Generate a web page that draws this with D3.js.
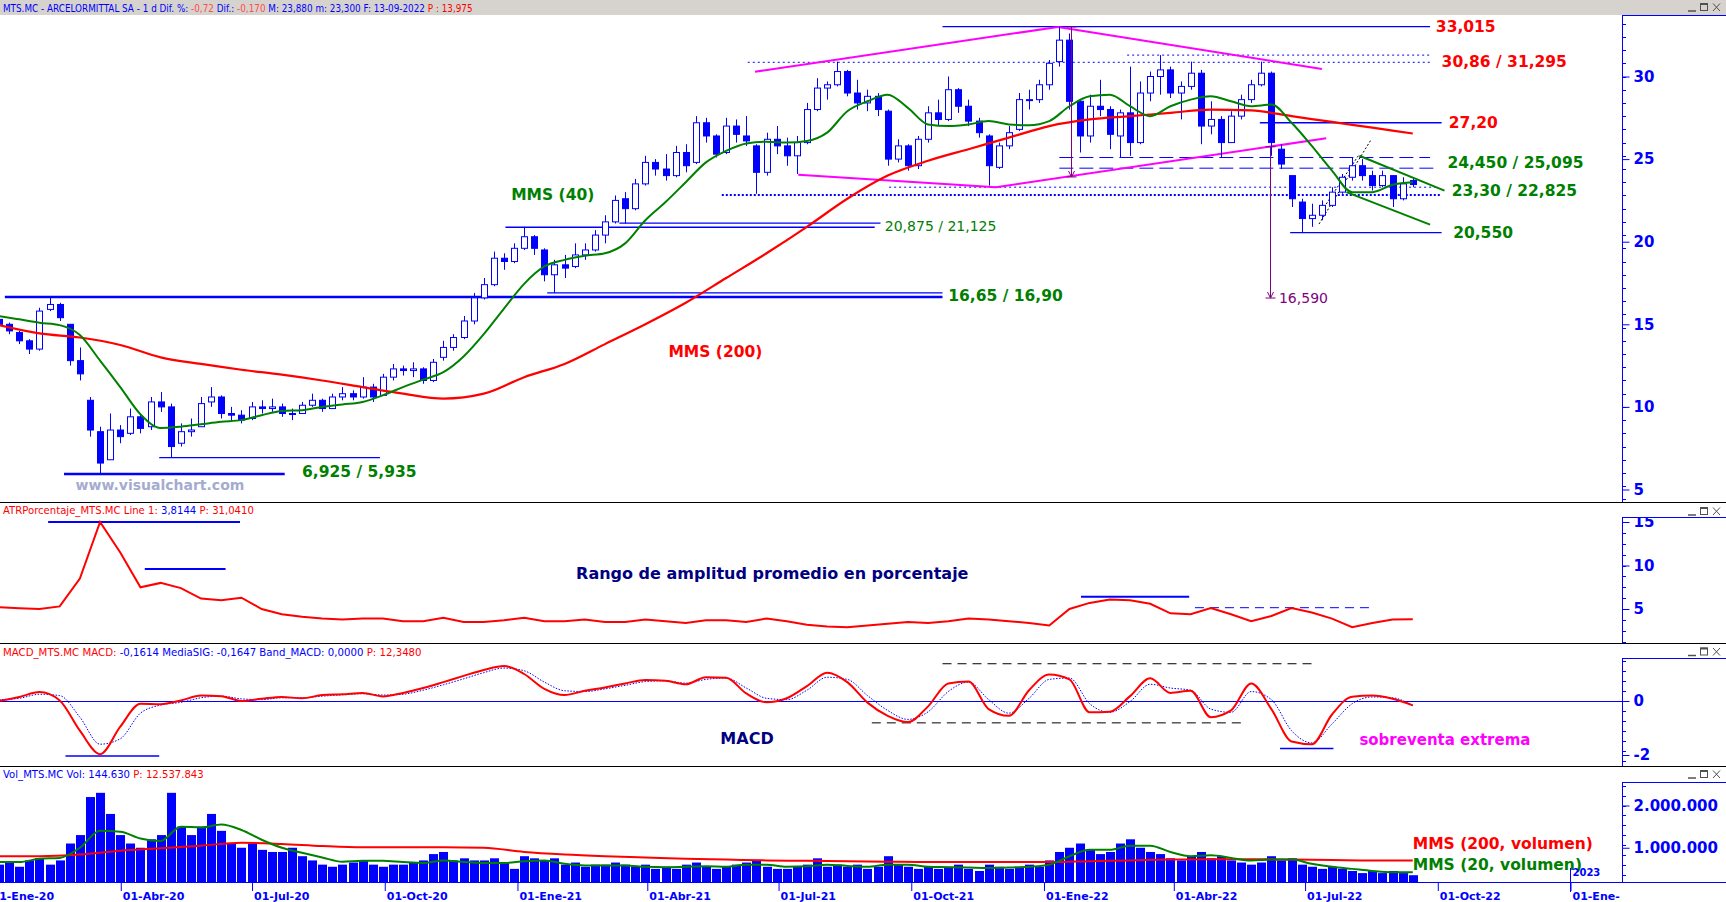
<!DOCTYPE html>
<html>
<head>
<meta charset="utf-8">
<script src="https://cdn.jsdelivr.net/npm/d3@7"></script>
<style>
  body { margin: 0; background: #fff; overflow: hidden; }
  svg { display: block; }
  text { font-family: "DejaVu Sans", Verdana, sans-serif; }
</style>
</head>
<body>
<div id="chart-area"></div>
<script>
// weekly bars (MTS.MC, Jan-2020 .. 13-Sep-2022)
var firstMonday = "2020-01-06", lastMonday = "2022-09-12"

var opens = [15.3,15.0,14.5,14.0,13.5,15.9,16.2,15.0,12.8,10.4,
  8.5,6.8,8.6,8.4,9.4,8.8,10.3,10.0,7.8,8.5,
  8.8,10.3,10.6,9.6,9.5,9.3,10.0,9.9,10.0,9.6,
  9.6,10.1,10.4,9.9,10.6,10.8,10.6,11.2,10.7,11.8,
  12.3,12.2,12.3,11.6,13.0,13.6,14.2,15.2,16.6,17.4,
  19.0,18.8,19.6,20.3,19.5,18.0,18.6,18.5,19.2,19.5,
  20.4,21.2,22.6,22.0,23.5,24.8,24.4,24.0,25.4,24.8,
  27.2,26.4,25.4,27.0,26.4,25.8,24.2,26.2,25.8,25.2,
  26.0,28.0,29.3,29.5,30.3,29.0,28.4,28.8,27.9,25.0,
  25.8,24.6,26.2,27.8,27.4,29.2,28.2,27.3,26.4,24.5,
  25.8,26.8,28.6,28.6,29.5,30.9,32.2,28.5,26.4,28.2,
  28.0,26.4,27.8,26.0,29.0,30.0,30.4,29.0,29.4,30.2,
  27.0,27.4,26.0,27.6,28.6,29.5,30.2,25.6,24.0,22.4,
  21.4,21.6,22.2,23.0,23.9,24.6,24.0,23.4,24.0,22.6,
  23.7]
var highs = [15.5,15.1,14.6,14.1,16.0,16.7,16.3,15.0,13.6,10.6,
  8.8,9.6,8.9,9.9,9.6,10.6,10.9,10.2,9.0,9.3,
  10.6,11.2,10.7,10.0,9.8,10.3,10.4,10.5,10.2,9.9,
  10.3,10.8,10.5,10.8,11.2,11.0,11.8,11.4,12.0,12.6,
  12.5,12.7,12.4,12.9,14.0,14.4,15.5,16.9,17.8,19.4,
  19.3,19.9,20.9,20.4,19.6,18.9,19.2,19.9,19.9,20.7,
  21.6,22.8,23.0,23.8,25.2,25.0,25.3,25.8,25.9,27.6,
  27.5,26.5,27.5,27.4,27.6,25.9,26.6,27.0,26.3,26.4,
  28.4,29.9,29.7,30.9,30.4,29.8,29.2,29.0,28.0,26.2,
  25.9,26.4,28.2,28.6,30.0,29.3,28.6,27.5,26.5,26.0,
  27.0,29.0,29.2,29.8,31.0,33.015,32.6,28.6,28.9,29.8,
  28.2,28.0,30.6,29.7,30.3,31.295,30.6,29.7,30.9,30.4,
  28.5,27.6,27.9,28.9,29.8,30.9,30.3,25.9,24.0,22.6,
  22.3,22.5,23.3,24.1,25.1,25.0,24.3,24.3,24.0,23.9,
  23.88]
var lows = [14.9,14.4,13.8,13.2,13.4,15.8,15.2,12.5,11.6,8.2,
  5.935,6.8,7.8,8.3,8.4,8.6,9.7,6.925,7.6,8.2,
  8.8,10.0,9.3,9.1,9.0,9.2,9.6,9.7,9.4,9.2,
  9.6,10.0,9.7,9.9,10.4,10.4,10.5,10.3,10.7,11.6,
  11.9,11.8,11.4,11.5,12.8,13.4,14.1,15.0,16.5,17.3,
  18.3,18.7,19.5,19.2,17.6,16.9,17.8,18.4,18.9,19.4,
  19.9,21.1,21.1,21.9,23.4,24.0,23.7,23.9,24.2,24.7,
  26.0,25.1,25.3,26.0,25.8,22.9,24.0,25.3,24.6,24.1,
  25.9,27.9,28.6,29.4,28.8,28.0,27.9,27.6,24.6,24.8,
  24.3,24.4,26.0,27.0,27.3,27.8,27.0,26.3,23.4,24.4,
  25.6,26.7,28.0,28.4,29.2,30.6,28.0,25.4,26.0,27.6,
  25.6,25.1,25.2,25.9,28.5,28.9,28.7,27.4,29.2,25.9,
  26.5,25.1,26.0,27.4,28.4,29.4,25.2,24.4,22.1,20.55,
  20.9,21.3,22.1,22.9,23.7,23.7,23.1,23.3,22.1,22.5,
  23.30]
var closes = [15.0,14.6,14.0,13.5,15.8,16.2,15.4,12.8,12.0,8.6,
  6.6,8.6,8.2,9.4,8.7,10.3,10.0,7.6,8.5,8.6,
  10.2,10.6,9.6,9.5,9.2,10.0,9.9,10.0,9.6,9.6,
  10.1,10.4,9.9,10.6,10.8,10.6,11.2,10.6,11.8,12.3,
  12.2,12.3,11.6,12.7,13.6,14.2,15.2,16.6,17.4,19.0,
  18.8,19.6,20.3,19.6,18.0,18.6,18.4,19.2,19.5,20.4,
  21.2,22.5,22.0,23.5,24.8,24.4,24.0,25.4,24.6,27.2,
  26.4,25.3,27.0,26.5,26.1,24.2,26.2,25.8,25.2,26.0,
  28.0,29.3,29.5,30.3,29.0,28.4,28.8,28.0,25.0,25.8,
  24.6,26.2,27.8,27.4,29.2,28.2,27.3,26.6,24.6,25.8,
  26.6,28.6,28.6,29.5,30.8,32.2,28.5,26.4,28.2,28.0,
  26.5,27.8,26.0,29.0,30.0,30.4,29.0,29.4,30.2,27.0,
  27.4,26.0,27.6,28.6,29.5,30.2,26.0,24.7,22.6,21.4,
  21.6,22.2,23.0,23.9,24.6,24.0,23.4,24.0,22.6,23.5,
  23.46]
// average daily volume of each week, millions
var volumes = [0.6,0.65,0.55,0.7,0.75,0.6,0.7,1.1,1.3,2.2,
  2.3,1.8,1.3,1.1,1.0,1.2,1.3,2.3,1.5,1.3,
  1.5,1.8,1.4,1.1,1.0,1.1,0.95,0.9,0.9,1.0,
  0.8,0.7,0.6,0.55,0.6,0.65,0.7,0.6,0.55,0.6,
  0.6,0.65,0.7,0.85,0.9,0.7,0.75,0.7,0.7,0.75,
  0.65,0.5,0.8,0.75,0.7,0.75,0.6,0.65,0.55,0.6,
  0.6,0.65,0.6,0.55,0.6,0.5,0.55,0.5,0.6,0.65,
  0.55,0.5,0.55,0.6,0.65,0.7,0.55,0.5,0.5,0.55,
  0.6,0.75,0.55,0.6,0.55,0.6,0.5,0.55,0.8,0.6,
  0.55,0.5,0.55,0.5,0.55,0.6,0.5,0.45,0.6,0.55,
  0.5,0.55,0.6,0.55,0.7,0.9,1.0,1.1,0.95,0.85,
  0.9,1.1,1.2,1.0,0.9,0.85,0.75,0.7,0.8,0.9,
  0.75,0.8,0.7,0.65,0.6,0.65,0.8,0.7,0.75,0.6,
  0.55,0.5,0.55,0.5,0.45,0.4,0.45,0.4,0.45,0.4,
  0.35]

// indicator lines, read every 2nd week
var ma40 = [15.5,15.3,15.1,14.95,14.35,12.8,11.2,9.55,8.72,8.8,
  8.95,9.1,9.2,9.5,9.75,9.8,10.0,10.15,10.3,10.7,
  11.2,11.65,12.1,13.05,14.4,15.95,17.45,18.5,18.9,19.15,
  19.3,19.9,21.3,22.4,23.6,24.8,25.5,25.95,26.05,26.0,
  26.1,26.6,27.9,28.5,28.9,28.1,27.1,27.0,27.1,27.3,
  27.1,27.05,27.3,28.2,28.8,28.9,28.2,27.6,28.2,28.6,
  28.8,28.5,28.2,28.3,27.2,25.8,24.3,23.0,23.0,23.45,
  23.6]
var atr = [5.2,5.1,5.0,5.3,8.5,15.0,11.5,7.5,8.0,7.4,
  6.2,6.0,6.3,5.0,4.4,4.1,3.9,3.8,3.9,3.9,
  3.6,3.6,4.0,3.5,3.5,3.7,4.0,3.6,3.6,3.8,
  3.5,3.5,3.8,3.6,3.4,3.7,3.7,3.5,3.9,3.6,
  3.2,3.0,2.9,3.1,3.3,3.5,3.4,3.6,3.9,3.8,
  3.6,3.4,3.1,5.0,5.7,6.1,6.0,5.6,4.5,4.4,
  5.1,4.4,3.6,4.2,5.1,4.6,3.9,2.9,3.4,3.8,
  3.81]
var macd = [0.0,0.15,0.33,0.02,-1.1,-1.97,-0.95,-0.1,-0.12,0.02,
  0.2,0.18,0.0,0.08,0.15,0.1,0.22,0.25,0.3,0.17,
  0.3,0.48,0.7,0.93,1.15,1.3,1.0,0.45,0.22,0.38,
  0.5,0.65,0.78,0.75,0.62,0.88,0.86,0.28,-0.05,0.1,
  0.55,1.05,0.7,-0.06,-0.55,-0.78,-0.2,0.65,0.72,-0.3,
  -0.55,0.4,0.98,0.8,-0.42,-0.4,0.18,0.84,0.3,0.38,
  -0.6,-0.35,0.65,-0.3,-1.5,-1.6,-0.5,0.16,0.2,0.08,
  -0.16]
var macdSignal = [0.05,0.1,0.25,0.2,-0.6,-1.6,-1.4,-0.45,-0.15,-0.05,
  0.12,0.18,0.08,0.05,0.12,0.12,0.18,0.23,0.27,0.22,
  0.25,0.4,0.6,0.82,1.05,1.22,1.12,0.7,0.38,0.35,
  0.45,0.58,0.72,0.75,0.66,0.8,0.85,0.48,0.1,0.05,
  0.4,0.88,0.8,0.2,-0.35,-0.68,-0.4,0.35,0.7,0.05,
  -0.45,0.1,0.8,0.85,-0.1,-0.42,-0.02,0.62,0.48,0.4,
  -0.3,-0.42,0.35,0.05,-1.1,-1.55,-0.85,-0.1,0.15,0.12,
  -0.165]
var volMa20 = [0.66,0.66,0.74,0.76,1.0,1.4,1.38,1.22,1.16,1.5,
  1.48,1.55,1.42,1.19,1.0,0.88,0.77,0.67,0.69,0.69,
  0.66,0.64,0.7,0.66,0.64,0.64,0.68,0.7,0.62,0.58,
  0.58,0.58,0.55,0.54,0.55,0.56,0.55,0.6,0.6,0.55,
  0.56,0.6,0.57,0.55,0.6,0.6,0.55,0.54,0.53,0.52,
  0.53,0.55,0.6,0.8,0.95,0.95,1.05,1.05,0.9,0.8,
  0.82,0.76,0.7,0.72,0.72,0.62,0.55,0.5,0.45,0.42,
  0.42]
// slow averages, read every 4th week
var ma200 = [14.95,14.45,14.2,13.75,13.0,12.6,12.25,11.95,11.6,11.2,
  10.8,10.5,10.8,11.8,12.6,13.8,15.0,16.3,17.8,19.3,
  20.9,22.6,24.0,24.9,25.6,26.3,27.0,27.4,27.6,27.8,
  28.0,27.95,27.6,27.25,26.9,26.55]
var volMa200 = [0.8,0.8,0.84,0.93,0.99,1.05,1.12,1.09,1.04,1.01,
  1.01,1.01,1.0,0.9,0.84,0.8,0.77,0.74,0.72,0.7,
  0.69,0.68,0.67,0.66,0.66,0.66,0.66,0.68,0.7,0.72,
  0.73,0.73,0.72,0.71,0.7,0.7]

var xTickDates = ["2020-01-01","2020-04-01","2020-07-01","2020-10-01","2021-01-01","2021-04-01",
  "2021-07-01","2021-10-01","2022-01-01","2022-04-01","2022-07-01","2022-10-01","2023-01-01"]
var xTickLabels = ["01-Ene-20","01-Abr-20","01-Jul-20","01-Oct-20","01-Ene-21","01-Abr-21",
  "01-Jul-21","01-Oct-21","01-Ene-22","01-Abr-22","01-Jul-22","01-Oct-22","01-Ene-23"]
var priceTicks = [5, 10, 15, 20, 25, 30]
var atrTicks = [5, 10, 15]
var macdTicks = [-2, 0]
var volTicks = [1, 2]
var volTickLabels = ["1.000.000", "2.000.000"]

// drawn support / resistance levels: from, to, price
var thickLevels = [["2020-01-12","2021-10-23",16.65], ["2020-02-22","2020-07-24",5.935]]
var thinLevels = [["2021-01-22","2021-10-23",16.90], ["2020-12-24","2021-09-06",20.875],
  ["2021-03-13","2021-09-10",21.125], ["2020-04-28","2020-09-28",6.925],
  ["2021-10-23","2022-09-26",33.015], ["2022-05-31","2022-10-04",27.20], ["2022-06-21","2022-10-04",20.55]]
var fineDotLevels = [["2022-02-28","2022-09-26",31.295], ["2021-06-10","2022-09-26",30.86], ["2021-09-16","2022-09-30",23.30]]
var boldDotLevels = [["2021-05-23","2022-10-04",22.825]]
var dashLevels = [["2022-01-12","2022-09-26",25.095], ["2022-01-12","2022-09-29",24.45]]
// trend lines: date1, price1, date2, price2
var wedgeLines = [["2021-06-15",30.29,"2022-01-11",33.0], ["2022-01-11",33.0,"2022-07-13",30.45],
  ["2021-07-15",24.06,"2021-11-29",23.29], ["2021-11-29",23.29,"2022-07-16",26.26]]
var flagLines = [["2022-08-08",25.2,"2022-10-06",23.09], ["2022-07-30",23.0,"2022-09-26",21.03]]
var channelLines = [["2022-07-11",21.07,"2022-08-16",26.16], ["2022-07-16",22.28,"2022-08-08",25.3]]
var targetArrows = [["2022-01-20",33.0,23.92], ["2022-06-07",25.75,16.59]]

var priceLabels = [
  {text:"33,015", date:"2022-09-30", price:33.015, kind:"red"},
  {text:"30,86 / 31,295", date:"2022-10-04", price:30.86, kind:"red"},
  {text:"27,20", date:"2022-10-09", price:27.2, kind:"red"},
  {text:"24,450 / 25,095", date:"2022-10-08", price:24.77, kind:"green"},
  {text:"23,30 / 22,825", date:"2022-10-11", price:23.06, kind:"green"},
  {text:"20,550", date:"2022-10-12", price:20.55, kind:"green"},
  {text:"16,65 / 16,90", date:"2021-10-27", price:16.7, kind:"green"},
  {text:"6,925 / 5,935", date:"2020-08-05", price:6.06, kind:"green"},
  {text:"MMS (40)", date:"2020-12-28", price:22.83, kind:"green"},
  {text:"MMS (200)", date:"2021-04-16", price:13.32, kind:"red"}
]

var W = 1726, H = 902, axisX = 1622
var blue = "#0000ff", red = "#ff0000", green = "#008000", magenta = "#ff00ff", purple = "#800080", navy = "#000080"
var parse = d3.timeParse("%Y-%m-%d")

var mondays = d3.timeMonday.range(parse(firstMonday), d3.timeDay.offset(parse(lastMonday), 1))
var days = mondays.map(d => d3.timeDay.offset(d, 2))
var bars = days.map((d, i) => ({date: d, o: opens[i], h: highs[i], l: lows[i], c: closes[i], v: volumes[i]}))
var every2 = days.filter((d, i) => i % 2 == 0)
var every4 = days.filter((d, i) => i % 4 == 0)

var x = d3.scaleTime().domain([parse("2020-01-01"), parse("2023-01-01")]).range([-11, 1570])
var yP = d3.scaleLinear().domain([5, 30]).range([489.5, 76.5])
var yA = d3.scaleLinear().domain([0, 15]).range([652.5, 522])
var yM = d3.scaleLinear().domain([-2, 0]).range([755, 701])
var yV = d3.scaleLinear().domain([0, 2]).range([890, 805.5])

var panels = {
  main: {top: 15, axisTop: 15, bottom: 502},
  atr:  {top: 502, axisTop: 517, bottom: 643},
  macd: {top: 643, axisTop: 658, bottom: 766},
  vol:  {top: 766, axisTop: 782, bottom: 882}
}

var svg = d3.select("#chart-area").append("svg").attr("width", W).attr("height", H)
svg.append("rect").attr("width", W).attr("height", H).attr("fill", "#fff")
var defs = svg.append("defs")
Object.keys(panels).forEach(k => {
  var p = panels[k]
  defs.append("clipPath").attr("id", "plot-" + k).append("rect")
    .attr("x", 0).attr("y", p.top).attr("width", axisX).attr("height", p.bottom - p.top)
  defs.append("clipPath").attr("id", "axis-" + k).append("rect")
    .attr("x", axisX).attr("y", p.axisTop).attr("width", W - axisX).attr("height", p.bottom - p.axisTop)
})
defs.append("clipPath").attr("id", "xlabels").append("rect").attr("x", 0).attr("y", 882).attr("width", 1620).attr("height", 20)

// ---- title bar
svg.append("rect").attr("width", W).attr("height", 15).attr("fill", "#d6d3ce")
// the platform uses a narrow bitmap font, so squeeze the header lines horizontally
function header(y, parts, len) {
  var t = svg.append("text").attr("x", 0).attr("y", 0).attr("font-size", 11)
    .attr("font-family", "Liberation Sans, Arial, sans-serif")
  parts.forEach(p => t.append("tspan").attr("fill", p[1]).text(p[0]))
  var w = t.node().getBBox().width
  t.attr("transform", `translate(3,${y}) scale(${len / w},1)`)
}
function winButtons(b) {
  var g = svg.append("g").attr("stroke", "#505050").attr("fill", "none")
  g.append("line").attr("x1", 1688).attr("x2", 1696).attr("y1", b).attr("y2", b).attr("stroke-width", 1.5)
  g.append("rect").attr("x", 1700.5).attr("y", b - 7.5).attr("width", 7).attr("height", 7)
  g.append("line").attr("x1", 1700.5).attr("x2", 1707.5).attr("y1", b - 7).attr("y2", b - 7).attr("stroke-width", 2)
  g.append("line").attr("x1", 1713).attr("x2", 1720).attr("y1", b - 7.5).attr("y2", b)
  g.append("line").attr("x1", 1720).attr("x2", 1713).attr("y1", b - 7.5).attr("y2", b)
}
header(11.5, [["MTS.MC - ARCELORMITTAL SA -  1 d  Dif. %: ", blue], ["-0,72", "#ff4d4d"], ["  Dif.: ", blue],
  ["-0,170", "#ff4d4d"], ["  M: 23,880  m: 23,300  F: 13-09-2022  ", blue], ["P : 13,975", red]], 470)
winButtons(11)

// ---- panel frames
function frame(p, sep) {
  if (sep) svg.append("line").attr("x1", 0).attr("x2", W).attr("y1", p.top + 0.5).attr("y2", p.top + 0.5).attr("stroke", "#000")
  svg.append("line").attr("x1", axisX + 0.5).attr("x2", axisX + 0.5).attr("y1", p.axisTop).attr("y2", p.bottom).attr("stroke", blue)
  svg.append("line").attr("x1", axisX).attr("x2", W).attr("y1", p.axisTop + 0.5).attr("y2", p.axisTop + 0.5).attr("stroke", blue)
}
frame(panels.main, false)
frame(panels.atr, true)
frame(panels.macd, true)
frame(panels.vol, true)
winButtons(515)
winButtons(655.5)
winButtons(778)

function rightAxis(key, scale, ticks, fmt, anchor, step) {
  var p = panels[key]
  var outer = svg.append("g").attr("clip-path", "url(#axis-" + key + ")")
  var lo = scale.invert(p.bottom), hi = scale.invert(p.axisTop)
  var minors = d3.range(-80, 80).map(k => anchor + k * step).filter(v => v > Math.min(lo, hi) && v < Math.max(lo, hi))
  outer.selectAll(".minor").data(minors).enter().append("line")
    .attr("x1", axisX).attr("x2", axisX + 4)
    .attr("y1", d => Math.round(scale(d)) + 0.5).attr("y2", d => Math.round(scale(d)) + 0.5)
    .attr("stroke", blue)
  var ax = d3.axisRight(scale).tickValues(ticks).tickFormat(fmt).tickSize(7).tickPadding(4).tickSizeOuter(0)
  var a = outer.append("g").attr("transform", `translate(${axisX + 0.5},0)`).call(ax)
  a.select(".domain").remove()
  a.selectAll("line").attr("stroke", blue)
  a.selectAll("text").attr("fill", blue).attr("font-size", 15).attr("font-weight", "bold")
    .attr("font-family", "DejaVu Sans, Verdana, sans-serif")
}
rightAxis("main", yP, priceTicks, d => d, 30, 0.8)
rightAxis("atr", yA, atrTicks, d => d, 15, 1.25)
rightAxis("macd", yM, macdTicks, d => d, 0, 0.37)
rightAxis("vol", yV, volTicks, (d, i) => volTickLabels[i], 2, 0.236)

// ---- price panel
var gm = svg.append("g").attr("clip-path", "url(#plot-main)")

function levelGroup(list, scale, attrs) {
  list.forEach(l => {
    var ln = gm.append("line")
      .attr("x1", x(parse(l[0]))).attr("x2", x(parse(l[1])))
      .attr("y1", scale(l[2])).attr("y2", scale(l[2]))
    Object.keys(attrs).forEach(k => ln.attr(k, attrs[k]))
  })
}
function trendGroup(g, list, scale, attrs) {
  list.forEach(l => {
    var ln = g.append("line")
      .attr("x1", x(parse(l[0]))).attr("y1", scale(l[1]))
      .attr("x2", x(parse(l[2]))).attr("y2", scale(l[3]))
    Object.keys(attrs).forEach(k => ln.attr(k, attrs[k]))
  })
}

levelGroup(thickLevels, yP, {stroke: blue, "stroke-width": 2.5})
levelGroup(thinLevels, yP, {stroke: blue, "stroke-width": 1.3})
levelGroup(fineDotLevels, yP, {stroke: blue, "stroke-width": 1, "stroke-dasharray": "2,3"})
levelGroup(boldDotLevels, yP, {stroke: blue, "stroke-width": 2, "stroke-dasharray": "2,2"})
levelGroup(dashLevels, yP, {stroke: blue, "stroke-width": 1, "stroke-dasharray": "14,6"})
trendGroup(gm, wedgeLines, yP, {stroke: magenta, "stroke-width": 2})
trendGroup(gm, channelLines, yP, {stroke: "#000", "stroke-width": 1, "stroke-dasharray": "2,2"})

// candles
gm.selectAll(".wick").data(bars).enter().append("line")
  .attr("x1", d => Math.round(x(d.date)) + 0.5).attr("x2", d => Math.round(x(d.date)) + 0.5)
  .attr("y1", d => yP(d.h)).attr("y2", d => yP(d.l))
  .attr("stroke", blue)
gm.selectAll(".body").data(bars).enter().append("rect")
  .attr("x", d => Math.round(x(d.date)) - 2.5).attr("width", 6)
  .attr("y", d => yP(Math.max(d.o, d.c)))
  .attr("height", d => Math.max(1, Math.abs(yP(d.o) - yP(d.c))))
  .attr("fill", d => d.c >= d.o ? "#fff" : blue)
  .attr("stroke", blue)

var smooth = (ys) => d3.line().x(d => x(d[0])).y(d => ys(d[1])).curve(d3.curveMonotoneX)
gm.append("path").datum(d3.zip(every4, ma200)).attr("d", smooth(yP))
  .attr("fill", "none").attr("stroke", red).attr("stroke-width", 2.2)
gm.append("path").datum(d3.zip(every2, ma40)).attr("d", smooth(yP))
  .attr("fill", "none").attr("stroke", green).attr("stroke-width", 2)

trendGroup(gm, flagLines, yP, {stroke: green, "stroke-width": 2})

// measured moves
targetArrows.forEach(a => {
  var ax = Math.round(x(parse(a[0]))) + 0.5
  gm.append("line").attr("x1", ax).attr("x2", ax).attr("y1", yP(a[1])).attr("y2", yP(a[2])).attr("stroke", purple)
  ;[a[1], a[2]].forEach(v => gm.append("line").attr("x1", ax - 5).attr("x2", ax + 5)
    .attr("y1", yP(v)).attr("y2", yP(v)).attr("stroke", purple))
  gm.append("path").attr("d", `M${ax - 3},${yP(a[2]) - 6}L${ax},${yP(a[2])}L${ax + 3},${yP(a[2]) - 6}`)
    .attr("fill", "none").attr("stroke", purple)
})
gm.append("text").attr("x", x(parse(targetArrows[1][0])) + 9).attr("y", yP(targetArrows[1][2]))
  .attr("dominant-baseline", "central").attr("font-size", 14).attr("fill", purple).text("16,590")

gm.append("text").attr("x", x(parse("2021-09-13"))).attr("y", yP(20.95))
  .attr("dominant-baseline", "central").attr("font-size", 14).attr("fill", green).text("20,875 / 21,125")

gm.selectAll(".plabel").data(priceLabels).enter().append("text")
  .attr("x", d => x(parse(d.date))).attr("y", d => yP(d.price))
  .attr("dominant-baseline", "central").attr("font-size", 15.5).attr("font-weight", "bold")
  .attr("fill", d => d.kind == "red" ? red : green).text(d => d.text)

gm.append("text").attr("x", x(parse("2020-03-01"))).attr("y", yP(5.27))
  .attr("dominant-baseline", "central").attr("font-size", 14).attr("font-weight", "bold")
  .attr("fill", "#a4abd0").text("www.visualchart.com")

// ---- ATR panel
var ga = svg.append("g").attr("clip-path", "url(#plot-atr)")
var atrMarks = [["2020-02-11","2020-06-23",15.0], ["2020-04-18","2020-06-13",9.6], ["2022-01-27","2022-04-12",6.4]]
var atrDash = [["2022-04-16","2022-08-15",5.15]]
atrMarks.forEach(l => ga.append("line").attr("x1", x(parse(l[0]))).attr("x2", x(parse(l[1])))
  .attr("y1", yA(l[2])).attr("y2", yA(l[2])).attr("stroke", blue).attr("stroke-width", 2))
atrDash.forEach(l => ga.append("line").attr("x1", x(parse(l[0]))).attr("x2", x(parse(l[1])))
  .attr("y1", yA(l[2])).attr("y2", yA(l[2])).attr("stroke", blue).attr("stroke-dasharray", "9,6"))
ga.append("path").datum(d3.zip(every2, atr))
  .attr("d", d3.line().x(d => x(d[0])).y(d => yA(d[1])))
  .attr("fill", "none").attr("stroke", red).attr("stroke-width", 2)
ga.append("text").attr("x", x(parse("2021-02-11"))).attr("y", yA(9.08)).attr("dominant-baseline", "central")
  .attr("font-size", 16).attr("font-weight", "bold").attr("fill", navy)
  .text("Rango de amplitud promedio en porcentaje")
header(514, [["ATRPorcentaje_MTS.MC  Line 1: ", red], ["3,8144", blue], ["  P: 31,0410", red]], 251)

// ---- MACD panel
var gd = svg.append("g").attr("clip-path", "url(#plot-macd)")
gd.append("line").attr("x1", 0).attr("x2", axisX).attr("y1", Math.round(yM(0)) + 0.5).attr("y2", Math.round(yM(0)) + 0.5).attr("stroke", blue)
var macdDash = [["2021-10-23","2022-07-08",1.38], ["2021-09-04","2022-05-22",-0.81]]
var macdMarks = [["2020-02-23","2020-04-28",-2.04], ["2022-06-14","2022-07-21",-1.76]]
macdDash.forEach(l => gd.append("line").attr("x1", x(parse(l[0]))).attr("x2", x(parse(l[1])))
  .attr("y1", yM(l[2])).attr("y2", yM(l[2])).attr("stroke", "#000").attr("stroke-dasharray", "9,6"))
macdMarks.forEach(l => gd.append("line").attr("x1", x(parse(l[0]))).attr("x2", x(parse(l[1])))
  .attr("y1", yM(l[2])).attr("y2", yM(l[2])).attr("stroke", blue).attr("stroke-width", 1.5))
gd.append("path").datum(d3.zip(every2, macdSignal)).attr("d", smooth(yM))
  .attr("fill", "none").attr("stroke", blue).attr("stroke-width", 1).attr("stroke-dasharray", "1.5,1.5")
gd.append("path").datum(d3.zip(every2, macd)).attr("d", smooth(yM))
  .attr("fill", "none").attr("stroke", red).attr("stroke-width", 2)
gd.append("text").attr("x", x(parse("2021-05-22"))).attr("y", yM(-1.39)).attr("dominant-baseline", "central")
  .attr("font-size", 16).attr("font-weight", "bold").attr("fill", navy).text("MACD")
gd.append("text").attr("x", x(parse("2022-08-08"))).attr("y", yM(-1.44)).attr("dominant-baseline", "central")
  .attr("font-size", 15).attr("font-weight", "bold").attr("fill", magenta).text("sobreventa extrema")
header(656, [["MACD_MTS.MC  MACD: ", red], ["-0,1614  MediaSIG: -0,1647  Band_MACD: 0,0000  ", blue], ["P: 12,3480", red]], 419)

// ---- volume panel
var gv = svg.append("g").attr("clip-path", "url(#plot-vol)")
gv.selectAll(".vbar").data(bars).enter().append("rect")
  .attr("x", d => Math.round(x(d.date)) - 4).attr("width", 9)
  .attr("y", d => yV(d.v)).attr("height", d => Math.max(0, 882 - yV(d.v)))
  .attr("fill", blue)
gv.append("path").datum(d3.zip(every4, volMa200)).attr("d", smooth(yV))
  .attr("fill", "none").attr("stroke", red).attr("stroke-width", 2)
gv.append("path").datum(d3.zip(every2, volMa20)).attr("d", smooth(yV))
  .attr("fill", "none").attr("stroke", green).attr("stroke-width", 2)
header(778, [["Vol_MTS.MC  Vol: 144.630  ", blue], ["P: 12.537.843", red]], 201)

svg.append("text").attr("x", x(parse("2022-09-14"))).attr("y", yV(1.09)).attr("dominant-baseline", "central")
  .attr("font-size", 15.5).attr("font-weight", "bold").attr("fill", red).text("MMS (200, volumen)")
svg.append("text").attr("x", x(parse("2022-09-14"))).attr("y", yV(0.59)).attr("dominant-baseline", "central")
  .attr("font-size", 15.5).attr("font-weight", "bold").attr("fill", green).text("MMS (20, volumen)")

// ---- time axis
svg.append("line").attr("x1", 0).attr("x2", W).attr("y1", 882.5).attr("y2", 882.5).attr("stroke", blue)
var xa = d3.axisBottom(x).tickValues(xTickDates.map(parse)).tickFormat((d, i) => xTickLabels[i])
  .tickSize(9).tickPadding(1).tickSizeOuter(0)
var gx = svg.append("g").attr("clip-path", "url(#xlabels)").append("g").attr("transform", "translate(0,882)").call(xa)
gx.select(".domain").remove()
gx.selectAll(".tick line").attr("stroke", blue).attr("transform", "translate(0.5,0)")
gx.selectAll(".tick text").attr("fill", blue).attr("text-anchor", "start").attr("dx", 2)
  .attr("font-size", 11).attr("font-weight", "bold").attr("font-family", "DejaVu Sans, Verdana, sans-serif")

var yearMarks = [["2023-01-01", "2023"]]
yearMarks.forEach(m => {
  var mx = Math.round(x(parse(m[0]))) + 0.5
  svg.append("line").attr("x1", mx).attr("x2", mx).attr("y1", 868).attr("y2", 892).attr("stroke", blue)
  svg.append("text").attr("x", mx + 2).attr("y", 876).attr("font-size", 10).attr("font-weight", "bold")
    .attr("fill", blue).text(m[1])
})
</script>
</body>
</html>
